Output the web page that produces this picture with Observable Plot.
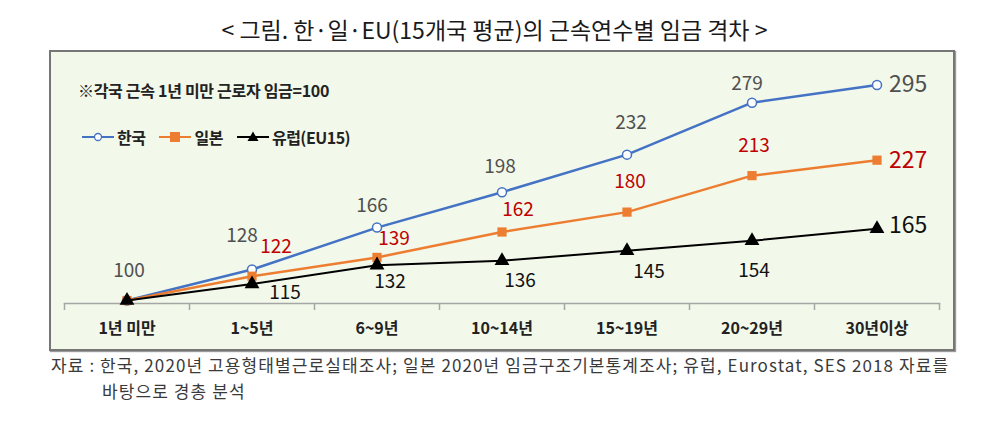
<!DOCTYPE html>
<html>
<head>
<meta charset="utf-8">
<script src="https://cdn.jsdelivr.net/npm/d3@7"></script>
<script src="https://cdn.jsdelivr.net/npm/@observablehq/plot@0.6"></script>
<style>
  body { margin:0; width:989px; height:428px; position:relative; background:#fff; font-family:"Noto Sans CJK KR", sans-serif; overflow:hidden; }
  #title { position:absolute; left:0; top:13px; width:989px; text-align:center; font-size:23px; line-height:32px; color:#1a1a1a; letter-spacing:0px; }
  #panel { position:absolute; left:49px; top:50px; width:902px; height:297px; border:2px solid #767676; background:#f2f8ea; box-shadow:1px 1px 1px #9a9a9a; }
  #panel svg { position:absolute; left:0; top:0; }
  #note { position:absolute; left:27px; top:27px; font-size:16px; line-height:22px; font-weight:bold; color:#222; letter-spacing:-0.3px; }
  #legend { position:absolute; left:30px; top:74px; font-size:16px; line-height:22px; font-weight:bold; color:#222; letter-spacing:-0.5px; display:flex; align-items:center; }
  #legend .item { display:flex; align-items:center; margin-right:13px; }
  #legend svg { position:static; margin-right:2px; }
  #caption { position:absolute; left:51px; top:352px; font-size:17px; line-height:26px; color:#3a3a3a; letter-spacing:1.1px; white-space:nowrap; }
  #caption .l2 { padding-left:51px; }
</style>
</head>
<body>
<div id="title"></div>
<div id="panel">
  <div id="note"></div>
  <div id="legend"></div>
</div>
<div id="caption"></div>
<script>
const titleText = "< 그림. 한·일·EU(15개국 평균)의 근속연수별 임금 격차 >";
const noteText = "※각국 근속 1년 미만 근로자 임금=100";
const captionLines = ["자료 : 한국, 2020년 고용형태별근로실태조사; 일본 2020년 임금구조기본통계조사; 유럽, Eurostat, SES 2018 자료를", "바탕으로 경총 분석"];

const categories = ["1년 미만", "1~5년", "6~9년", "10~14년", "15~19년", "20~29년", "30년이상"];
const seriesNames = ["한국", "일본", "유럽(EU15)"];
const korea = [100, 128, 166, 198, 232, 279, 295];
const japan = [100, 122, 139, 162, 180, 213, 227];
const eu = [100, 115, 132, 136, 145, 154, 165];

// label styling (pixel nudges relative to each point)
const koreaNudge = [[2,-30],[-10,-34],[-5,-22],[-2,-25],[4,-32],[-5,-19]];
const japanNudge = [null,[24,-29],[17,-19],[16,-22],[3,-30],[2,-30]];
const euNudge = [null,[33,9],[13,17],[18,20],[22,21],[2,30]];

const colors = {"한국": "#4472c4", "일본": "#ed7d31", "유럽(EU15)": "#000000"};
const labelColors = {"한국": "#505050", "일본": "#c00000", "유럽(EU15)": "#111111"};

document.getElementById("title").textContent = titleText;
document.getElementById("note").textContent = noteText;
const cap = document.getElementById("caption");
captionLines.forEach((t, i) => { const d = document.createElement("div"); d.textContent = t; if (i) d.className = "l2"; cap.appendChild(d); });

const values = [korea, japan, eu];
const nudges = [koreaNudge, japanNudge, euNudge];
const rows = [];
seriesNames.forEach((s, si) => values[si].forEach((v, i) => rows.push({series: s, si, i, x: i + 0.5, value: v})));

const numFont = "'Noto Sans CJK KR', sans-serif";
const labelMarks = [];
rows.forEach(r => {
  const last = r.i === categories.length - 1;
  const nd = nudges[r.si][r.i];
  if (!last && !nd) return;
  labelMarks.push(Plot.text([r], {
    x: "x", y: "value", text: d => String(d.value),
    fill: labelColors[r.series],
    fontFamily: numFont,
    fontSize: last ? 23 : 19,
    textAnchor: last ? "start" : "middle",
    dx: last ? 12 : nd[0],
    dy: last ? (r.si === 2 ? -3 : 0) : nd[1]
  }));
});

const seriesMarks = [];
seriesNames.forEach(s => {
  const data = rows.filter(r => r.series === s);
  seriesMarks.push(Plot.line(data, {x: "x", y: "value", stroke: colors[s], strokeWidth: s === "유럽(EU15)" ? 2 : 2.5}));
  if (s === "한국") seriesMarks.push(Plot.dot(data, {x: "x", y: "value", r: 4.5, fill: "#fff", stroke: colors[s], strokeWidth: 1.5}));
  if (s === "일본") seriesMarks.push(Plot.dot(data, {x: "x", y: "value", symbol: "square", r: 5.2, fill: colors[s], stroke: "none"}));
  if (s === "유럽(EU15)") seriesMarks.push(Plot.dot(data, {x: "x", y: "value", symbol: "triangle", r: 5.5, fill: colors[s], stroke: "none"}));
});

const chart = Plot.plot({
  width: 902,
  height: 297,
  marginLeft: 13,
  marginRight: 14,
  marginTop: 27,
  marginBottom: 46,
  style: {background: "transparent", overflow: "visible"},
  x: {domain: [0, categories.length], axis: null, label: null},
  y: {domain: [97.3, 300], axis: null, label: null},
  marks: [
    Plot.frame({anchor: "bottom", stroke: "#a6a6a6", strokeWidth: 1.5}),
    Plot.axisX({ticks: d3.range(categories.length + 1), tickSize: 7, tickFormat: () => "", color: "#a6a6a6", strokeWidth: 1.5, label: null}),
    Plot.axisX({ticks: categories.map((c, i) => i + 0.5), tickSize: 0, tickPadding: 19, tickFormat: d => categories[Math.round(d - 0.5)], fontSize: 16, fontWeight: "bold", fill: "#222", fontFamily: numFont, label: null}),
    ...seriesMarks,
    ...labelMarks
  ]
});
document.getElementById("panel").appendChild(chart);

// legend
const legend = document.getElementById("legend");
seriesNames.forEach(s => {
  const item = document.createElement("div");
  item.className = "item";
  let sym;
  if (s === "한국") sym = `<circle cx="17" cy="8" r="3.5" fill="#fff" stroke="${colors[s]}" stroke-width="1.3"/>`;
  else if (s === "일본") sym = `<rect x="12" y="3" width="10" height="10" fill="${colors[s]}"/>`;
  else sym = `<path d="M17,2.5 L22.5,12 L11.5,12 Z" fill="${colors[s]}"/>`;
  item.innerHTML = `<svg width="34" height="16" viewBox="0 0 34 16"><line x1="1" y1="8" x2="33" y2="8" stroke="${colors[s]}" stroke-width="2"/>${sym}</svg><span></span>`;
  item.querySelector("span").textContent = s;
  legend.appendChild(item);
});
</script>
</body>
</html>
